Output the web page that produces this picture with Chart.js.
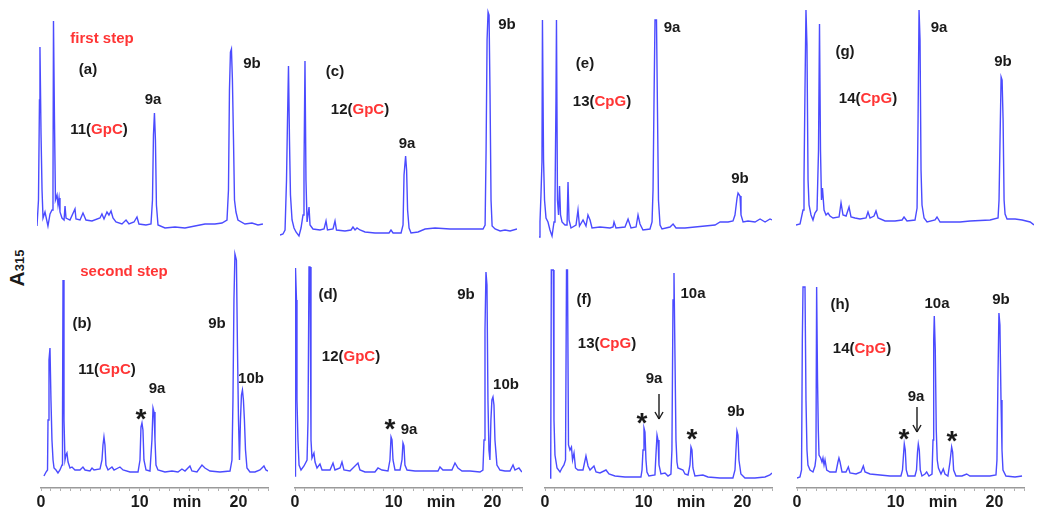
<!DOCTYPE html>
<html>
<head>
<meta charset="utf-8">
<title>HPLC traces</title>
<script src="https://cdn.jsdelivr.net/npm/chart.js@4.4.1/dist/chart.umd.min.js"></script>
<style>
    html, body { margin: 0; padding: 0; background: #fff; }
    #figure {
        position: relative;
        width: 1050px;
        height: 521px;
        overflow: hidden;
        font-family: "Liberation Sans", Arial, sans-serif;
        font-weight: bold;
        color: #1a1a1a;
    }
    #figure canvas { position: absolute; }
    .lbl {
        position: absolute;
        transform: translate(-50%, -50%);
        font-size: 15px;
        line-height: 1;
        white-space: nowrap;
        z-index: 2;
    }
    .red { color: #ff3535; }
    .star { font-size: 28px; transform: translate(-50%, -28%); }
    #ylabel {
        position: absolute;
        left: 16px;
        top: 268px;
        transform: translate(-50%, -50%) rotate(-90deg);
        font-size: 21px;
        line-height: 1;
        white-space: nowrap;
    }
    #ylabel span { font-size: 13px; }
    #arrows { position: absolute; left: 0; top: 0; z-index: 2; }
</style>
</head>
<body>
<div id="figure">
    <div id="ylabel">A<span>315</span></div>
    <svg id="arrows" width="1050" height="521"></svg>
</div>

<script>
// Retention time (min), absorbance at 315 nm (arbitrary units)
const runA = [[0,14],[0.15,40],[0.25,140],[0.3,193],[0.41,105],[0.51,50],[0.61,22],[0.81,28],[1.11,14],[1.32,26],
    [1.52,30],[1.62,55],[1.67,219],[1.77,120],[1.87,40],[2.03,45],[2.13,35],[2.23,42],[2.33,28],[2.53,22],
    [2.74,20],[2.84,34],[2.94,22],[3.34,20],[3.85,31],[3.95,21],[4.36,20],[4.66,27],[4.96,20],[5.57,19],
    [6.38,22],[6.58,26],[6.79,21],[7.09,28],[7.29,25],[7.5,29],[7.7,22],[8.0,18],[8.61,16],[9.02,20],
    [9.32,16],[9.83,18],[10.13,23],[10.33,16],[11.04,15],[11.55,16],[11.7,40],[11.8,105],[11.9,127],[12.0,100],
    [12.1,35],[12.26,15],[12.97,12],[13.98,13],[14.99,12],[16.0,14],[17.02,16],[18.03,16],[18.74,17],[19.25,20],
    [19.4,50],[19.5,150],[19.6,188],[19.7,191],[19.8,160],[19.91,100],[20.01,40],[20.16,28],[20.36,20],[21.07,16],
    [21.78,17],[22.39,15],[22.89,16]];

const runC = [[0,5],[0.3,6],[0.51,10],[0.66,60],[0.76,120],[0.86,174],[0.96,100],[1.06,45],[1.22,20],[1.42,12],
    [1.62,8],[1.92,4],[2.13,12],[2.33,25],[2.43,70],[2.53,179],[2.63,60],[2.74,18],[2.94,33],[3.04,15],
    [3.34,11],[4.05,10],[4.46,11],[4.66,19],[4.81,10],[5.37,11],[5.57,19],[5.72,10],[6.58,9],[7.19,10],
    [7.39,13],[7.6,10],[7.8,12],[8.1,10],[8.61,8],[9.62,7],[11.04,7],[11.24,10],[11.45,7],[12.26,7],
    [12.46,15],[12.56,65],[12.72,84],[12.82,70],[12.92,30],[13.07,12],[13.27,7],[13.98,8],[14.69,11],[15.7,12],
    [17.22,11],[19.25,11],[20.56,11],[20.77,15],[20.87,90],[20.97,200],[21.07,228],[21.17,225],[21.27,145],[21.37,40],
    [21.48,14],[21.78,11],[22.29,9],[22.79,10],[23.3,9],[24.0,11]];

const runE = [[0,3],[0.1,18],[0.2,45],[0.3,78],[0.35,220],[0.46,80],[0.56,40],[0.71,22],[0.91,18],[1.11,10],
    [1.32,4],[1.52,18],[1.62,40],[1.72,140],[1.77,220],[1.87,40],[1.98,25],[2.08,54],[2.18,25],[2.33,18],
    [2.63,15],[2.84,15],[2.94,58],[3.04,20],[3.24,12],[3.75,15],[3.95,30],[4.1,14],[4.46,20],[4.76,14],
    [4.96,25],[5.17,20],[5.37,12],[6.18,13],[7.19,12],[7.5,13],[7.6,18],[7.8,12],[8.71,13],[9.02,21],
    [9.32,12],[9.83,13],[10.03,25],[10.23,16],[10.53,10],[11.24,11],[11.45,18],[11.55,50],[11.65,140],[11.75,220],
    [11.9,220],[12.0,130],[12.1,40],[12.26,15],[12.46,11],[13.27,13],[13.58,16],[13.88,12],[14.79,12],[15.8,13],
    [16.82,14],[17.83,15],[18.34,18],[19.15,18],[19.65,19],[19.85,25],[20.06,42],[20.16,47],[20.36,44],[20.46,25],
    [20.67,18],[21.17,19],[21.88,18],[22.39,21],[22.9,18],[23.4,21],[23.6,20]];

const runG = [[0,15],[0.41,16],[0.71,30],[0.81,60],[0.91,150],[1.01,230],[1.11,195],[1.22,60],[1.32,35],[1.52,25],
    [1.72,20],[1.92,27],[2.13,30],[2.28,90],[2.38,216],[2.48,90],[2.58,40],[2.68,52],[2.84,30],[3.04,25],
    [3.24,27],[3.44,24],[3.75,22],[4.36,23],[4.56,37],[4.76,25],[5.07,24],[5.37,33],[5.57,23],[5.98,22],
    [6.48,21],[7.09,22],[7.29,28],[7.5,22],[7.9,24],[8.1,29],[8.31,22],[9.02,19],[10.03,19],[10.74,20],
    [10.94,23],[11.24,19],[12.05,20],[12.26,32],[12.36,120],[12.46,230],[12.56,200],[12.66,70],[12.76,35],[12.97,22],
    [13.27,18],[14.08,20],[14.28,23],[14.59,18],[15.6,18],[16.61,18],[17.63,19],[19.65,20],[20.46,22],[20.56,40],
    [20.66,100],[20.77,163],[20.87,160],[20.97,120],[21.07,40],[21.17,26],[21.37,21],[22.19,21],[22.9,20],[23.71,18],
    [24.1,15]];

const runB = [[0.3,12],[0.51,16],[0.66,18],[0.71,68],[0.81,128],[0.91,140],[1.01,88],[1.11,48],[1.22,28],[1.32,20],
    [1.52,18],[1.72,15],[1.92,18],[2.13,23],[2.18,68],[2.23,208],[2.33,68],[2.43,28],[2.53,33],[2.63,35],
    [2.74,26],[2.94,20],[3.14,21],[3.44,18],[3.95,18],[4.25,21],[4.46,18],[4.96,17],[5.17,20],[5.37,18],
    [5.98,19],[6.18,28],[6.28,43],[6.38,51],[6.48,43],[6.58,23],[6.79,18],[7.19,21],[7.4,18],[8.0,21],
    [8.31,18],[9.02,16],[9.83,16],[10.03,28],[10.13,61],[10.23,65],[10.33,58],[10.43,28],[10.64,18],[11.04,17],
    [11.24,48],[11.35,80],[11.45,76],[11.55,48],[11.65,23],[11.85,18],[12.56,16],[13.27,17],[13.88,16],[14.28,19],
    [14.59,17],[15.09,22],[15.29,17],[15.8,16],[16.31,23],[16.61,20],[17.12,17],[18.13,16],[19.15,17],[19.35,28],
    [19.45,88],[19.55,188],[19.65,234],[19.8,228],[19.9,145],[20.01,68],[20.11,28],[20.21,68],[20.31,93],[20.41,98],
    [20.51,88],[20.61,68],[20.72,38],[20.87,20],[21.17,16],[21.68,16],[22.19,18],[22.59,22],[22.79,18],[23.0,17]];

const runD = [[0,12],[0.05,220],[0.15,188],[0.2,88],[0.3,48],[0.41,23],[0.61,18],[0.91,22],[1.22,28],[1.32,68],
    [1.42,221],[1.52,221],[1.62,48],[1.72,30],[1.92,35],[2.03,26],[2.23,20],[2.53,24],[2.74,18],[3.55,18],
    [3.85,25],[4.05,18],[4.56,20],[4.76,26],[4.96,18],[5.57,17],[6.38,25],[6.58,18],[7.09,16],[8.1,16],
    [8.41,20],[8.81,18],[9.42,17],[9.62,28],[9.73,51],[9.83,48],[9.93,28],[10.13,18],[10.64,18],[10.84,28],
    [10.94,45],[11.04,42],[11.14,23],[11.35,18],[12.16,17],[13.17,17],[14.49,17],[14.69,21],[14.99,18],[15.9,18],
    [16.21,25],[16.51,20],[16.92,17],[17.73,17],[18.74,16],[19.04,18],[19.15,48],[19.25,158],[19.35,216],[19.45,203],
    [19.55,88],[19.65,38],[19.75,28],[19.85,68],[19.95,88],[20.06,91],[20.16,83],[20.26,48],[20.46,23],[20.77,18],
    [21.27,17],[21.78,17],[22.09,23],[22.29,18],[22.69,20],[22.99,16]];

const runF = [[0.51,10],[0.58,23],[0.64,218],[0.84,218],[0.91,68],[1.01,33],[1.22,20],[1.52,16],[1.72,20],[1.92,23],
    [2.08,28],[2.18,218],[2.28,218],[2.38,43],[2.53,38],[2.68,41],[2.79,28],[2.94,35],[3.09,20],[3.34,18],
    [3.85,18],[4.15,32],[4.36,22],[4.56,18],[4.96,22],[5.17,16],[5.57,15],[6.18,18],[6.48,14],[7.09,12],
    [8.1,11],[9.72,11],[9.83,18],[9.93,38],[10.03,60],[10.13,56],[10.23,28],[10.33,16],[10.53,12],[11.14,13],
    [11.24,33],[11.35,53],[11.45,48],[11.55,23],[11.75,14],[12.16,15],[12.46,12],[12.76,14],[12.86,38],[12.97,188],
    [13.07,215],[13.17,131],[13.27,48],[13.37,26],[13.47,20],[13.98,18],[14.18,14],[14.49,13],[14.69,23],[14.79,41],
    [14.89,38],[14.99,20],[15.19,12],[16.0,13],[16.51,11],[17.73,10],[19.04,10],[19.25,18],[19.35,38],[19.45,57],
    [19.55,53],[19.65,28],[19.85,14],[20.26,10],[21.27,10],[22.29,11],[22.79,13],[23.0,15]];

const runH = [[0,10],[0.3,11],[0.46,18],[0.54,148],[0.61,201],[0.81,201],[0.91,88],[1.01,38],[1.11,23],[1.32,18],
    [1.62,16],[1.82,22],[1.92,30],[1.99,201],[2.08,108],[2.16,58],[2.23,33],[2.4,30],[2.53,26],[2.63,30],
    [2.74,23],[2.84,28],[3.01,18],[3.34,16],[3.95,16],[4.15,26],[4.25,30],[4.36,26],[4.56,16],[4.96,16],
    [5.2,21],[5.37,15],[5.98,14],[6.48,16],[6.72,22],[6.89,16],[7.4,14],[8.41,13],[9.42,12],[10.53,12],
    [10.69,18],[10.79,33],[10.87,44],[10.97,38],[11.07,18],[11.24,12],[11.95,12],[12.11,18],[12.21,36],[12.29,44],
    [12.39,38],[12.49,18],[12.66,12],[12.97,14],[13.14,16],[13.37,12],[13.68,14],[13.78,48],[13.85,148],[13.91,172],
    [14.01,138],[14.11,58],[14.21,28],[14.33,20],[14.59,14],[14.82,19],[14.99,14],[15.29,12],[15.5,26],[15.67,41],
    [15.77,36],[15.87,18],[16.11,12],[16.72,12],[17.19,14],[17.52,12],[18.54,12],[19.55,12],[20.16,13],[20.26,28],
    [20.36,108],[20.46,175],[20.56,163],[20.67,88],[20.77,38],[20.87,18],[21.17,12],[22.09,11],[22.8,12]];

// Bottom time axis
const minorTicks = [0,1,2,3,4,5,6,7,8,9,10,11,12,13,14,15,16,17,18,19,20,21,22,23];
const tickValues = [0, 10, 14.8, 20];
const tickLabels = ['0', '10', 'min', '20'];

// Layout
const PX_PER_MIN = 9.87;
const PAD = 12;
const AXIS_H = 28;
const TOP_H = 240;
const BOTTOM_TOP = 245;
const BOTTOM_AREA_H = 243;
const LINE_COLOR = '#4b4bff';
const FONT = '"Liberation Sans", Arial, sans-serif';

const panels = [
    { run: runA, left: 37,  xMax: 23.0, axis: false },
    { run: runC, left: 280, xMax: 24.0, axis: false },
    { run: runE, left: 539, xMax: 23.6, axis: false },
    { run: runG, left: 796, xMax: 24.1, axis: false },
    { run: runB, left: 41,  xMax: 23,   axis: true },
    { run: runD, left: 295, xMax: 23,   axis: true },
    { run: runF, left: 545, xMax: 23,   axis: true },
    { run: runH, left: 797, xMax: 23,   axis: true }
];

// Text placed over the traces: [html, centre x, centre y, class]
const labels = [
    ['first step', 102, 37, 'red'],
    ['(a)', 88, 68], ['11(<span class="red">GpC</span>)', 99, 128], ['9a', 153, 98], ['9b', 252, 62],
    ['(c)', 335, 70], ['12(<span class="red">GpC</span>)', 360, 108], ['9a', 407, 142], ['9b', 507, 23],
    ['(e)', 585, 62], ['13(<span class="red">CpG</span>)', 602, 100], ['9a', 672, 26], ['9b', 740, 177],
    ['(g)', 845, 50], ['14(<span class="red">CpG</span>)', 868, 97], ['9a', 939, 26], ['9b', 1003, 60],
    ['second step', 124, 270, 'red'],
    ['(b)', 82, 322], ['11(<span class="red">GpC</span>)', 107, 368], ['9a', 157, 387], ['9b', 217, 322], ['10b', 251, 377],
    ['*', 141, 413, 'star'],
    ['(d)', 328, 293], ['12(<span class="red">GpC</span>)', 351, 355], ['9a', 409, 428], ['9b', 466, 293], ['10b', 506, 383],
    ['*', 390, 423, 'star'],
    ['(f)', 584, 298], ['13(<span class="red">CpG</span>)', 607, 342], ['9a', 654, 377], ['10a', 693, 292], ['9b', 736, 410],
    ['*', 642, 417, 'star'], ['*', 692, 433, 'star'],
    ['(h)', 840, 303], ['14(<span class="red">CpG</span>)', 862, 347], ['9a', 916, 395], ['10a', 937, 302], ['9b', 1001, 298],
    ['*', 904, 433, 'star'], ['*', 952, 435, 'star']
];

// Down arrows under "9a": [x, y from, y to]
const arrows = [[659, 394, 419], [917, 407, 432]];

const figure = document.getElementById('figure');

function makeChart(p) {
    const canvas = document.createElement('canvas');
    const areaW = Math.round(p.xMax * PX_PER_MIN);
    let width, height, left, top;
    if (p.axis) {
        width = areaW + 2 * PAD;
        height = BOTTOM_AREA_H + AXIS_H;
        left = p.left - PAD;
        top = BOTTOM_TOP;
    } else {
        width = areaW;
        height = TOP_H;
        left = p.left;
        top = 0;
    }
    canvas.width = width;
    canvas.height = height;
    canvas.style.left = left + 'px';
    canvas.style.top = top + 'px';
    figure.appendChild(canvas);

    const xScale = p.axis ? {
        type: 'linear',
        min: 0,
        max: p.xMax,
        position: 'bottom',
        border: { display: true, color: '#9a9a9a', width: 1.5 },
        grid: {
            drawOnChartArea: false,
            drawTicks: true,
            tickLength: 3,
            color: ctx => (ctx.tick && ctx.tick.value === 14.8) ? 'rgba(0,0,0,0)' : '#b0b0b0'
        },
        ticks: {
            autoSkip: false,
            maxRotation: 0,
            minRotation: 0,
            padding: 2,
            color: '#1a1a1a',
            font: { family: FONT, size: 16, weight: 'bold' },
            callback: value => {
                const i = tickValues.indexOf(value);
                return i >= 0 ? tickLabels[i] : '';
            }
        },
        afterBuildTicks: axis => {
            axis.ticks = minorTicks.concat([14.8]).sort((a, b) => a - b).map(v => ({ value: v }));
        },
        afterFit: axis => {
            axis.paddingLeft = 0;
            axis.paddingRight = 0;
            axis.height = AXIS_H;
        }
    } : { type: 'linear', display: false, min: 0, max: p.xMax };

    new Chart(canvas, {
        type: 'line',
        data: {
            datasets: [{
                data: p.run.map(([t, a]) => ({ x: t, y: a })),
                borderColor: LINE_COLOR,
                borderWidth: 1.4,
                pointRadius: 0,
                tension: 0,
                fill: false
            }]
        },
        options: {
            responsive: false,
            animation: false,
            events: [],
            layout: { padding: p.axis ? { left: PAD, right: PAD, top: 0, bottom: 0 } : 0 },
            plugins: { legend: { display: false }, tooltip: { enabled: false } },
            scales: {
                x: xScale,
                y: { display: false, min: 0, max: p.axis ? BOTTOM_AREA_H : TOP_H }
            }
        }
    });
}

panels.forEach(makeChart);

labels.forEach(([html, x, y, cls]) => {
    const div = document.createElement('div');
    div.className = 'lbl' + (cls ? ' ' + cls : '');
    div.innerHTML = html;
    div.style.left = x + 'px';
    div.style.top = y + 'px';
    figure.appendChild(div);
});

const svg = document.getElementById('arrows');
const NS = 'http://www.w3.org/2000/svg';
function line(x1, y1, x2, y2) {
    const l = document.createElementNS(NS, 'line');
    l.setAttribute('x1', x1); l.setAttribute('y1', y1);
    l.setAttribute('x2', x2); l.setAttribute('y2', y2);
    l.setAttribute('stroke', '#1a1a1a');
    l.setAttribute('stroke-width', '1.4');
    svg.appendChild(l);
}
arrows.forEach(([x, y1, y2]) => {
    line(x, y1, x, y2);
    line(x - 4, y2 - 7, x, y2);
    line(x + 4, y2 - 7, x, y2);
});
</script>
</body>
</html>
